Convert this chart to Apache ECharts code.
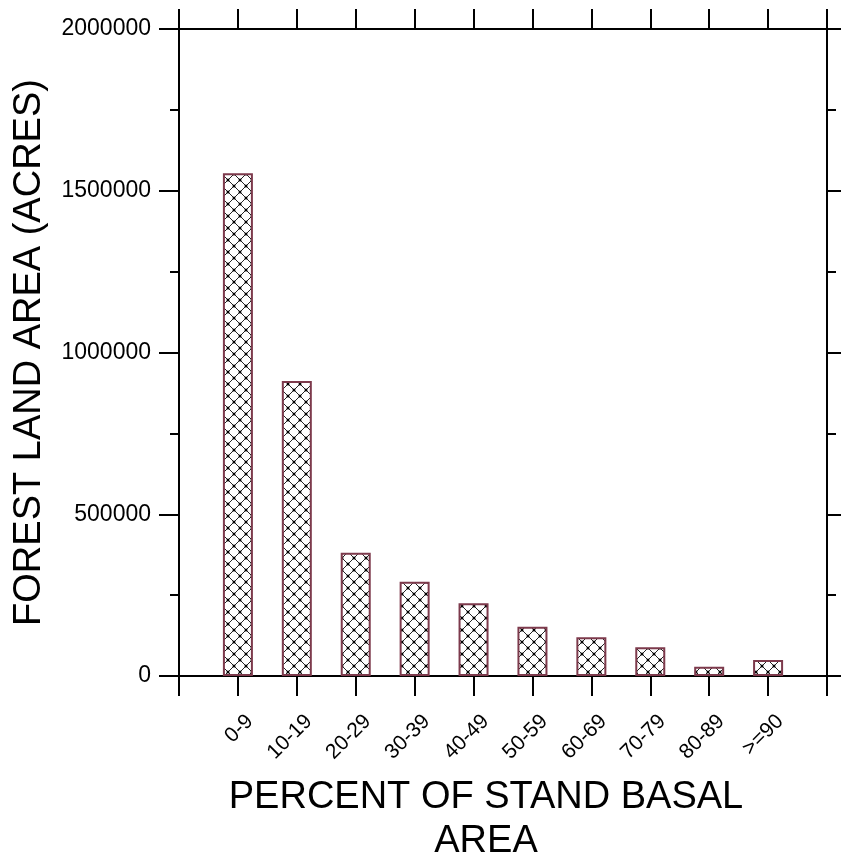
<!DOCTYPE html>
<html>
<head>
<meta charset="utf-8">
<script src="https://cdn.jsdelivr.net/npm/echarts@6/dist/echarts.min.js"></script>
<style>
html,body{margin:0;padding:0;background:#fff;}
#chart{width:841px;height:859px;}
</style>
</head>
<body>
<div id="chart"></div>
<script>
const categories = ['0-9','10-19','20-29','30-39','40-49','50-59','60-69','70-79','80-89','>=90'];
const acres = [1554000, 912000, 381000, 291500, 224700, 152400, 119600, 88700, 28700, 49500];
const yTicks = [0, 500000, 1000000, 1500000, 2000000];

const FONT = "'Liberation Sans', Arial, sans-serif";

// crosshatch pattern
const pc = document.createElement('canvas');
pc.width = 12; pc.height = 12;
const g = pc.getContext('2d');
g.fillStyle = '#fff'; g.fillRect(0,0,12,12);
g.strokeStyle = '#222'; g.lineWidth = 1;
g.beginPath();
g.moveTo(0,0); g.lineTo(12,12);
g.moveTo(12,0); g.lineTo(0,12);
g.stroke();
g.fillStyle = '#000';
[[6,6],[0,0],[12,0],[0,12],[12,12]].forEach(p=>{g.beginPath();g.arc(p[0],p[1],1.5,0,Math.PI*2);g.fill();});

const axisCats = [''].concat(categories, ['']);
const barData = ['-'].concat(acres, ['-']);

const chart = echarts.init(document.getElementById('chart'), null, {renderer:'canvas'});
const lineStyle = {color:'#000', width:2};
chart.setOption({
  animation:false,
  grid:{left:179, top:29, right:14, bottom:183, containLabel:false, outerBoundsMode:'none'},
  xAxis:[{
    type:'category', data:axisCats, boundaryGap:false, position:'bottom',
    axisLine:{show:true, onZero:false, lineStyle:lineStyle},
    axisTick:{show:true, length:20, inside:false, interval:0, lineStyle:lineStyle},
    axisLabel:{interval:0, rotate:45, margin:30, fontSize:21, color:'#000', fontFamily:FONT,
      verticalAlign:'top', lineHeight:34},
    splitLine:{show:false},
    name:'PERCENT OF STAND BASAL\nAREA', nameLocation:'middle', nameGap:100,
    nameTextStyle:{fontSize:38, lineHeight:44, color:'#000', fontFamily:FONT, padding:[0,34,0,0]}
  },{
    type:'category', data:axisCats, boundaryGap:false, position:'top',
    axisLine:{show:true, onZero:false, lineStyle:lineStyle},
    axisTick:{show:true, length:20, inside:false, interval:0, lineStyle:lineStyle},
    axisLabel:{show:false}, splitLine:{show:false}
  }],
  yAxis:[{
    type:'value', min:yTicks[0], max:yTicks[yTicks.length-1], interval:yTicks[1]-yTicks[0], position:'left',
    axisLine:{show:true, onZero:false, lineStyle:lineStyle},
    axisTick:{show:true, length:20, inside:false, lineStyle:lineStyle},
    minorTick:{show:true, splitNumber:2, length:9, lineStyle:{color:'#000', width:2}},
    axisLabel:{margin:28, fontSize:23, color:'#000', fontFamily:FONT, formatter:v=>String(v)},
    splitLine:{show:false},
    name:'FOREST LAND AREA (ACRES)', nameLocation:'middle', nameGap:130,
    nameTextStyle:{fontSize:38, color:'#000', fontFamily:FONT}
  },{
    type:'value', min:yTicks[0], max:yTicks[yTicks.length-1], interval:yTicks[1]-yTicks[0], position:'right',
    axisLine:{show:true, onZero:false, lineStyle:lineStyle},
    axisTick:{show:true, length:20, inside:false, lineStyle:lineStyle},
    minorTick:{show:true, splitNumber:2, length:9, lineStyle:{color:'#000', width:2}},
    axisLabel:{show:false}, splitLine:{show:false}
  }],
  series:[{
    type:'bar', xAxisIndex:0, yAxisIndex:0, data:barData, barWidth:30,
    itemStyle:{color:{image:pc, repeat:'repeat'}, borderColor:'#7d3a4c', borderWidth:2}
  }]
});
</script>
</body>
</html>
